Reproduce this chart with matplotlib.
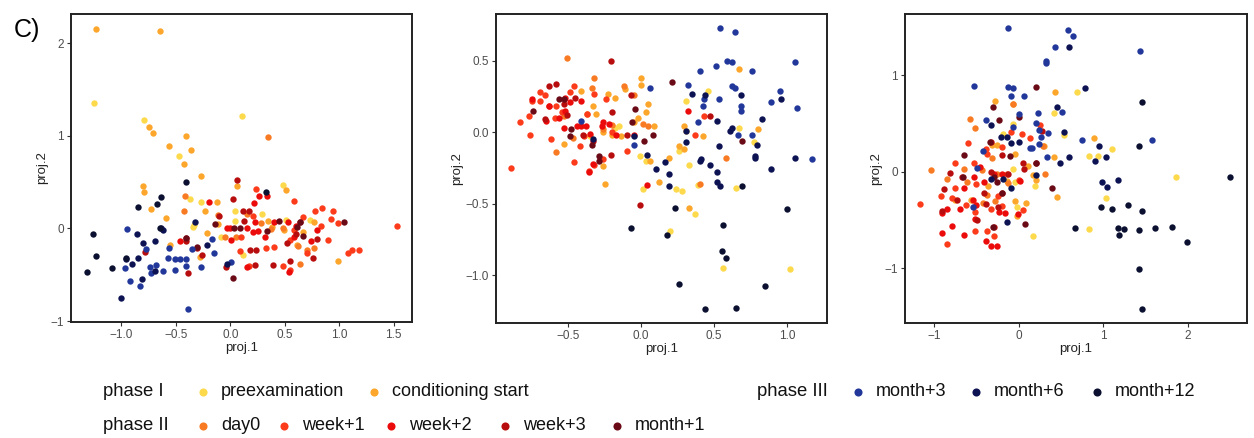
import matplotlib
matplotlib.use("Agg")
import matplotlib.pyplot as plt
import numpy as np

plt.rcParams["font.family"] = ["Liberation Sans", "DejaVu Sans"]

categories = ["preexamination", "conditioning start", "day0", "week+1", "week+2",
              "week+3", "month+1", "month+3", "month+6", "month+12"]
colors = ["#FDD94C", "#FCA62C", "#F87A22", "#FC3B1B", "#EC0B0B",
          "#B70D0E", "#6A0A16", "#22379A", "#0D1253", "#0B1030"]

# ---- panel 1 (x, y) per category ----
p1_pre = [(-1.25, 1.36), (-0.79, 1.17), (0.11, 1.22), (-0.47, 0.78), (0.48, 0.47), (-0.37, 0.32),
          (-0.27, 0.29), (-0.34, 0.02), (-0.33, 0.04), (0.04, 0.19), (0.04, 0.08), (-0.09, -0.09),
          (0.12, -0.29), (0.29, 0.16), (0.51, 0.09), (0.73, 0.09)]
p1_cond = [(-1.23, 2.16), (-0.65, 2.13), (-0.75, 1.10), (-0.71, 1.03), (-0.41, 1.00), (-0.56, 0.89),
           (-0.36, 0.85), (-0.43, 0.70), (-0.27, 0.57), (-0.80, 0.46), (-0.79, 0.39), (-0.73, 0.21),
           (-0.59, 0.11), (0.06, 0.46), (0.51, 0.42), (-0.12, 0.29), (-0.23, 0.19), (-0.21, -0.05),
           (-0.55, -0.18), (-0.28, -0.31), (0.35, 0.08), (0.38, 0.02), (0.49, -0.02), (0.61, -0.18),
           (0.67, -0.04), (0.77, 0.07), (0.99, -0.35), (-0.11, 0.05)]
p1_day0 = [(0.35, 0.99), (-0.42, 0.35), (-0.43, 0.19), (-0.05, -0.09), (0.05, -0.09), (0.15, 0.16),
           (0.62, -0.19), (0.70, -0.23), (0.77, -0.21), (0.48, 0.01), (0.37, -0.01), (0.64, -0.38),
           (0.28, 0.06), (-0.11, 0.15)]
p1_w1 = [(1.53, 0.03), (1.18, -0.23), (1.12, -0.23), (1.08, -0.27), (0.84, 0.22), (0.94, 0.19),
         (0.78, 0.19), (0.92, 0.10), (0.99, 0.06), (0.90, -0.12), (0.70, -0.27), (0.55, -0.12),
         (0.58, -0.02), (0.58, 0.30), (0.24, 0.43), (0.21, 0.14), (0.10, -0.09), (0.09, -0.24),
         (0.17, -0.41), (0.40, -0.20), (0.33, -0.21), (0.48, -0.41), (0.67, 0.12), (0.55, -0.45),
         (0.83, 0.03)]
p1_w2 = [(-0.20, 0.29), (0.26, 0.35), (0.34, 0.35), (0.22, 0.28), (0.00, 0.00), (-0.03, 0.00),
         (0.01, -0.12), (0.15, 0.01), (0.23, 0.07), (0.32, -0.09), (0.40, 0.07), (0.53, 0.07),
         (0.58, -0.09), (0.74, -0.13), (0.80, -0.02), (0.21, -0.04), (0.54, -0.47), (0.15, -0.42),
         (-0.46, -0.14), (0.25, -0.03), (0.60, 0.03)]
p1_w3 = [(0.06, 0.52), (0.02, 0.32), (0.12, 0.19), (0.17, 0.19), (-0.10, 0.13), (0.13, 0.08),
         (0.18, -0.23), (0.24, -0.23), (0.23, -0.39), (0.39, -0.39), (0.52, -0.16), (0.80, -0.11),
         (0.76, -0.32), (0.55, -0.35), (-0.41, -0.10), (-0.41, -0.14), (-0.39, -0.48), (-0.31, -0.21),
         (-0.26, -0.29), (-0.78, -0.25), (-0.04, -0.42), (0.60, -0.06), (0.64, 0.07)]
p1_m1 = [(0.02, -0.53), (-0.14, 0.05), (0.34, -0.03), (0.45, 0.08), (0.61, 0.02), (0.64, 0.07),
         (1.04, 0.07), (0.67, -0.08), (-0.31, -0.20), (-0.41, -0.10), (0.03, 0.00), (0.09, 0.00)]
p1_m3 = [(-0.39, -0.87), (-0.95, -0.01), (-0.97, -0.43), (-0.92, -0.57), (-0.83, -0.62), (-0.77, -0.22),
         (-0.74, -0.42), (-0.73, -0.48), (-0.68, -0.39), (-0.62, -0.46), (-0.57, -0.32), (-0.51, -0.45),
         (-0.51, -0.33), (-0.46, -0.33), (-0.41, -0.33), (-0.41, -0.40), (-0.35, -0.22), (-0.27, -0.42),
         (-0.17, -0.11), (-0.15, -0.26), (0.01, -0.36), (-0.56, -0.21)]
p1_m6 = [(-0.86, -0.06), (-0.80, -0.16), (-0.85, -0.32), (-0.90, -0.38), (-0.96, -0.33), (-0.69, -0.14),
         (-0.69, -0.46), (-0.64, 0.00), (-0.62, -0.02), (-0.21, -0.18), (-0.03, -0.38), (-1.00, -0.75),
         (-0.81, -0.55), (-0.32, 0.07)]
p1_m12 = [(-1.32, -0.47), (-1.26, -0.06), (-1.23, -0.30), (-1.09, -0.43), (-0.85, 0.23), (-0.67, 0.27),
          (-0.64, 0.34), (-0.41, 0.50), (0.33, 0.39), (-0.65, 0.00), (-0.96, -0.32)]

# ---- panel 2 ----
p2_pre = [(-0.15, 0.04), (-0.35, -0.03), (-0.01, -0.17), (0.03, -0.20), (0.01, -0.40), (0.31, 0.22),
          (0.46, 0.29), (0.31, 0.01), (0.33, -0.23), (0.24, -0.40), (0.28, -0.41), (0.39, -0.37),
          (0.37, -0.57), (0.20, -0.69), (0.56, -0.95), (0.65, -0.39), (0.67, 0.03), (0.77, -0.07),
          (1.02, -0.96), (-0.18, 0.03), (0.26, -0.13)]
p2_cond = [(0.00, 0.38), (0.00, 0.33), (0.05, 0.20), (0.03, 0.14), (-0.02, 0.10), (-0.05, 0.07),
           (-0.11, 0.30), (-0.23, 0.27), (-0.18, 0.24), (-0.33, 0.18), (-0.41, 0.29), (-0.31, 0.13),
           (-0.20, -0.02), (-0.14, -0.03), (-0.26, 0.00), (-0.26, -0.24), (-0.25, -0.36), (0.06, -0.20),
           (0.12, -0.35), (0.19, -0.18), (0.29, -0.12), (0.26, -0.10), (0.33, -0.53), (0.42, -0.03),
           (0.67, 0.44), (0.80, 0.02), (0.29, 0.04), (0.09, 0.04), (-0.53, -0.08)]
p2_day0 = [(-0.51, 0.52), (-0.32, 0.38), (-0.34, 0.31), (-0.12, 0.32), (-0.05, 0.26), (-0.58, -0.14),
           (-0.47, -0.04), (-0.53, 0.11), (-0.37, 0.13), (-0.26, 0.02), (-0.20, 0.05), (0.58, -0.18),
           (0.40, -0.36), (0.05, 0.04), (0.01, 0.06)]
p2_w1 = [(-0.89, -0.25), (-0.83, 0.07), (-0.76, -0.02), (-0.77, 0.11), (-0.69, 0.28), (-0.69, 0.22),
         (-0.75, 0.22), (-0.66, 0.26), (-0.63, 0.18), (-0.62, -0.05), (-0.59, 0.10), (-0.54, 0.14),
         (-0.49, 0.28), (-0.46, 0.32), (-0.42, -0.10), (-0.46, -0.21), (-0.39, -0.03), (-0.37, 0.13),
         (-0.32, -0.23), (-0.36, -0.27), (-0.26, -0.19), (-0.24, 0.23), (-0.20, 0.00), (-0.10, -0.13),
         (0.37, -0.02), (0.43, 0.11), (-0.32, 0.27), (-0.58, 0.18)]
p2_w2 = [(-0.75, 0.23), (-0.65, 0.08), (-0.63, 0.18), (-0.56, 0.10), (-0.52, 0.15), (-0.52, 0.24),
         (-0.49, 0.21), (-0.41, 0.22), (-0.41, 0.04), (-0.38, 0.04), (-0.35, -0.01), (-0.44, 0.04),
         (-0.36, -0.28), (-0.33, -0.22), (-0.26, 0.07), (-0.27, 0.04), (-0.22, 0.06), (-0.17, -0.02),
         (-0.05, -0.02), (0.04, -0.37), (0.32, 0.15), (-0.53, 0.03)]
p2_w3 = [(-0.21, 0.50), (-0.63, 0.32), (-0.58, 0.34), (-0.53, 0.20), (-0.51, 0.12), (-0.45, 0.24),
         (-0.40, -0.02), (-0.33, -0.06), (-0.20, 0.14), (-0.10, -0.02), (-0.07, 0.26), (-0.01, -0.51),
         (0.47, 0.11), (-0.21, -0.16), (-0.66, 0.09)]
p2_m1 = [(0.21, 0.35), (-0.56, 0.23), (-0.53, 0.23), (-0.49, -0.03), (-0.48, 0.02), (-0.29, -0.17),
         (-0.29, -0.20), (-0.04, 0.16), (0.02, -0.06), (0.08, -0.02), (0.69, -0.06), (-0.06, 0.07),
         (-0.34, -0.09), (-0.74, 0.15)]
p2_m3 = [(0.54, 0.73), (0.64, 0.70), (0.59, 0.50), (0.62, 0.49), (0.51, 0.46), (0.40, 0.43),
         (0.76, 0.43), (1.05, 0.49), (0.32, 0.33), (0.62, 0.32), (0.64, 0.31), (0.95, 0.29),
         (0.89, 0.21), (1.07, 0.17), (0.53, 0.23), (0.43, 0.23), (0.42, 0.18), (0.68, 0.18),
         (0.68, 0.15), (0.06, 0.31), (0.39, 0.07), (0.66, -0.02), (0.76, -0.02), (1.17, -0.19),
         (-0.05, -0.09), (-0.41, 0.08)]
p2_m6 = [(0.52, 0.08), (0.83, 0.09), (0.96, 0.23), (0.62, 0.03), (0.61, 0.01), (0.53, -0.10),
         (0.78, -0.17), (0.78, -0.18), (0.79, -0.09), (1.05, -0.18), (0.89, -0.26), (0.41, -0.19),
         (0.40, -0.20), (0.47, -0.23), (0.52, -0.28), (0.52, -0.35), (0.54, -0.38), (0.31, -0.07),
         (0.31, 0.01), (0.10, -0.26), (0.16, -0.21), (0.19, -0.29), (0.19, -0.38), (-0.05, -0.03),
         (0.04, -0.16), (0.35, 0.27), (0.44, 0.26), (0.68, 0.26), (-0.33, -0.05)]
p2_m12 = [(-0.07, -0.67), (0.18, -0.72), (0.23, -0.53), (0.26, -1.06), (0.44, -1.24), (0.65, -1.23),
          (0.55, -0.83), (0.58, -0.88), (0.56, -0.65), (0.85, -1.08), (1.00, -0.54), (0.69, -0.38)]

# ---- panel 3 ----
p3_pre = [(0.69, 0.83), (0.42, 0.61), (-0.07, 0.50), (-0.18, 0.39), (-0.07, 0.03), (-0.04, -0.11),
          (0.17, -0.67), (0.83, -0.59), (1.03, -0.27), (1.10, 0.24), (0.94, 0.16), (0.83, 0.16),
          (1.86, -0.05), (0.54, 0.38), (0.20, -0.15), (-0.02, -0.36)]
p3_cond = [(0.43, 0.83), (-0.28, 0.73), (-0.07, 0.70), (-0.31, 0.28), (-0.26, 0.28), (0.30, 0.27),
           (0.42, 0.15), (0.89, 0.35), (0.46, -0.26), (0.21, -0.08), (0.09, -0.32), (-0.04, -0.30),
           (-0.02, -0.46), (-0.75, -0.29), (-0.56, -0.29), (-0.36, -0.15), (-0.14, -0.09), (-0.04, 0.19),
           (0.17, -0.03), (0.11, 0.06)]
p3_day0 = [(-1.04, 0.02), (-0.57, 0.55), (-0.52, 0.46), (-0.06, 0.70), (-0.64, 0.03), (-0.84, -0.07),
           (-0.61, -0.11), (-0.43, 0.02), (-0.28, -0.30), (-0.42, -0.32), (0.31, -0.02), (-0.31, 0.14),
           (0.29, 0.27), (-0.26, -0.02), (-0.12, -0.12), (-0.37, -0.24)]
p3_w1 = [(-1.16, -0.33), (-0.92, -0.25), (-0.75, 0.09), (-0.79, -0.27), (-0.60, 0.30), (-0.53, 0.09),
         (-0.39, 0.24), (-0.37, 0.19), (-0.19, 0.26), (-0.09, 0.41), (0.04, 0.39), (0.14, 0.35),
         (0.25, 0.49), (-0.62, -0.34), (-0.52, -0.61), (-0.37, -0.61), (-0.29, -0.67), (-0.32, -0.39),
         (-0.24, -0.25), (0.01, -0.08), (0.05, -0.40), (-0.84, -0.75), (-0.50, -0.13), (-0.75, -0.17),
         (-0.19, -0.35), (-0.14, -0.02), (-0.52, -0.42)]
p3_w2 = [(-0.90, -0.43), (-0.84, -0.39), (-0.91, -0.63), (-0.79, -0.56), (-0.65, -0.65), (-0.69, -0.39),
         (-0.65, -0.17), (-0.53, -0.05), (-0.54, -0.29), (-0.50, -0.34), (-0.52, -0.49), (-0.41, -0.11),
         (-0.38, -0.72), (-0.32, -0.77), (-0.25, -0.77), (-0.29, -0.02), (-0.20, -0.02), (-0.16, -0.43),
         (-0.01, -0.44), (0.02, -0.09), (-0.23, -0.42), (-0.45, 0.05)]
p3_w3 = [(-0.88, -0.18), (-0.81, -0.01), (-0.91, -0.41), (-0.73, -0.29), (-0.67, -0.05), (-0.49, -0.50),
         (-0.33, 0.31), (-0.41, -0.22), (-0.39, -0.33), (-0.29, -0.57), (-0.24, -0.36), (-0.12, -0.02),
         (0.05, 0.09), (0.07, 0.03), (0.21, 0.09), (0.28, 0.42), (-0.19, -0.22), (-0.32, 0.00),
         (-0.20, 0.18)]
p3_m1 = [(0.21, 0.88), (-0.30, 0.67), (-0.23, 0.54), (0.00, 0.57), (-0.34, 0.31), (-0.64, 0.17),
         (-0.66, -0.05), (-0.29, -0.05), (-0.25, -0.11), (0.08, -0.54), (0.39, -0.17), (-0.19, -0.22),
         (-0.10, 0.16), (-0.30, -0.57), (0.21, 0.09)]
p3_m3 = [(-0.12, 1.49), (0.59, 1.47), (0.64, 1.41), (0.43, 1.29), (0.33, 1.15), (0.33, 1.13),
         (1.43, 1.25), (-0.53, 0.89), (-0.12, 0.88), (-0.06, 0.87), (-0.09, 0.79), (0.06, 0.79),
         (0.01, 0.60), (0.23, 0.61), (0.51, 0.62), (-0.39, 0.54), (-0.07, 0.47), (0.21, 0.51),
         (0.24, 0.43), (0.35, 0.40), (0.26, 0.36), (0.24, 0.29), (0.13, 0.25), (0.16, 0.25),
         (0.75, 0.33), (1.58, 0.33), (0.34, 0.15), (-0.49, 0.04), (-0.42, 0.22), (-0.54, -0.36)]
p3_m6 = [(-0.32, 0.49), (-0.21, 0.36), (-0.14, 0.36), (0.00, 0.31), (-0.09, 0.30), (0.49, 0.09),
         (0.60, 0.15), (0.45, 0.67), (0.54, 0.41), (0.95, 0.27), (1.03, 0.15), (0.90, 0.11),
         (0.99, -0.11), (1.04, -0.16), (1.18, -0.08), (0.79, 0.87), (0.60, 1.30), (0.21, -0.03),
         (-0.09, -0.17), (-0.18, -0.07), (-0.32, -0.07), (-0.14, -0.52)]
p3_m12 = [(2.50, -0.05), (1.46, 0.72), (1.42, 0.27), (1.46, -0.41), (1.29, -0.34), (1.11, -0.39),
          (0.98, -0.36), (1.17, -0.58), (1.25, -0.59), (1.19, -0.65), (1.42, -0.60), (1.61, -0.58),
          (1.81, -0.57), (1.99, -0.73), (0.67, -0.58), (1.42, -1.01), (1.46, -1.42)]

panels = [
    [p1_pre, p1_cond, p1_day0, p1_w1, p1_w2, p1_w3, p1_m1, p1_m3, p1_m6, p1_m12],
    [p2_pre, p2_cond, p2_day0, p2_w1, p2_w2, p2_w3, p2_m1, p2_m3, p2_m6, p2_m12],
    [p3_pre, p3_cond, p3_day0, p3_w1, p3_w2, p3_w3, p3_m1, p3_m3, p3_m6, p3_m12],
]
xlims = [(-1.463, 1.668), (-0.994, 1.272), (-1.342, 2.70)]
ylims = [(-1.01, 2.317), (-1.336, 0.827), (-1.567, 1.637)]
xticks = [[-1.0, -0.5, 0.0, 0.5, 1.0, 1.5], [-0.5, 0.0, 0.5, 1.0], [-1, 0, 1, 2]]
yticks = [[-1, 0, 1, 2], [-1.0, -0.5, 0.0, 0.5], [-1, 0, 1]]
xfmt = ["{:.1f}", "{:.1f}", "{:d}"]
yfmt = ["{:d}", "{:.1f}", "{:d}"]
boxes = [(71, 14, 412, 322), (496, 14, 827, 323), (905, 14, 1247, 323)]

W, H = 1254, 438
fig = plt.figure(figsize=(W / 100, H / 100), dpi=100)

for i, pts in enumerate(panels):
    l, t, r, b = boxes[i]
    ax = fig.add_axes([l / W, 1 - b / H, (r - l) / W, (b - t) / H])
    for cat_pts, col in zip(pts, colors):
        arr = np.array(cat_pts)
        ax.scatter(arr[:, 0], arr[:, 1], s=21, color=col, linewidths=0, zorder=3)
    ax.set_xlim(*xlims[i])
    ax.set_ylim(*ylims[i])
    ax.set_xticks(xticks[i])
    ax.set_xticklabels([xfmt[i].format(v).replace("-", "\u2212") for v in xticks[i]])
    ax.set_yticks(yticks[i])
    ax.set_yticklabels([yfmt[i].format(v).replace("-", "\u2212") for v in yticks[i]])
    ax.tick_params(length=3, width=0.8, color="#333333", labelsize=8.5, labelcolor="#4D4D4D", pad=2)
    for sp in ax.spines.values():
        sp.set_linewidth(1.4)
        sp.set_color("#222222")
    ax.set_xlabel("proj.1", fontsize=9.5, color="#222222", labelpad=1)
    ax.set_ylabel("proj.2", fontsize=9.5, color="#222222", labelpad=2)

fig.text(14 / W, 1 - 30 / H, "C)", fontsize=18, va="center", ha="left")

# legend drawn in pixel coordinates on an overlay axes
leg = fig.add_axes([0, 0, 1, 1], facecolor="none")
leg.set_xlim(0, W)
leg.set_ylim(H, 0)
leg.axis("off")

legend_rows = [
    ("phase I", 103, 392, [(0, 203), (1, 374)]),
    ("phase II", 103, 426, [(2, 203), (3, 284), (4, 391), (5, 505), (6, 617)]),
    ("phase III", 757, 392, [(7, 858), (8, 976), (9, 1097)]),
]
for title, tx, ty, items in legend_rows:
    leg.text(tx, ty, title, fontsize=13.3, va="center", ha="left", color="#111111")
    for k, dx in items:
        leg.scatter([dx], [ty], s=34, color=colors[k], linewidths=0)
        leg.text(dx + 18, ty, categories[k], fontsize=13, va="center", ha="left", color="#111111")

fig.savefig("out.png", dpi=100)
